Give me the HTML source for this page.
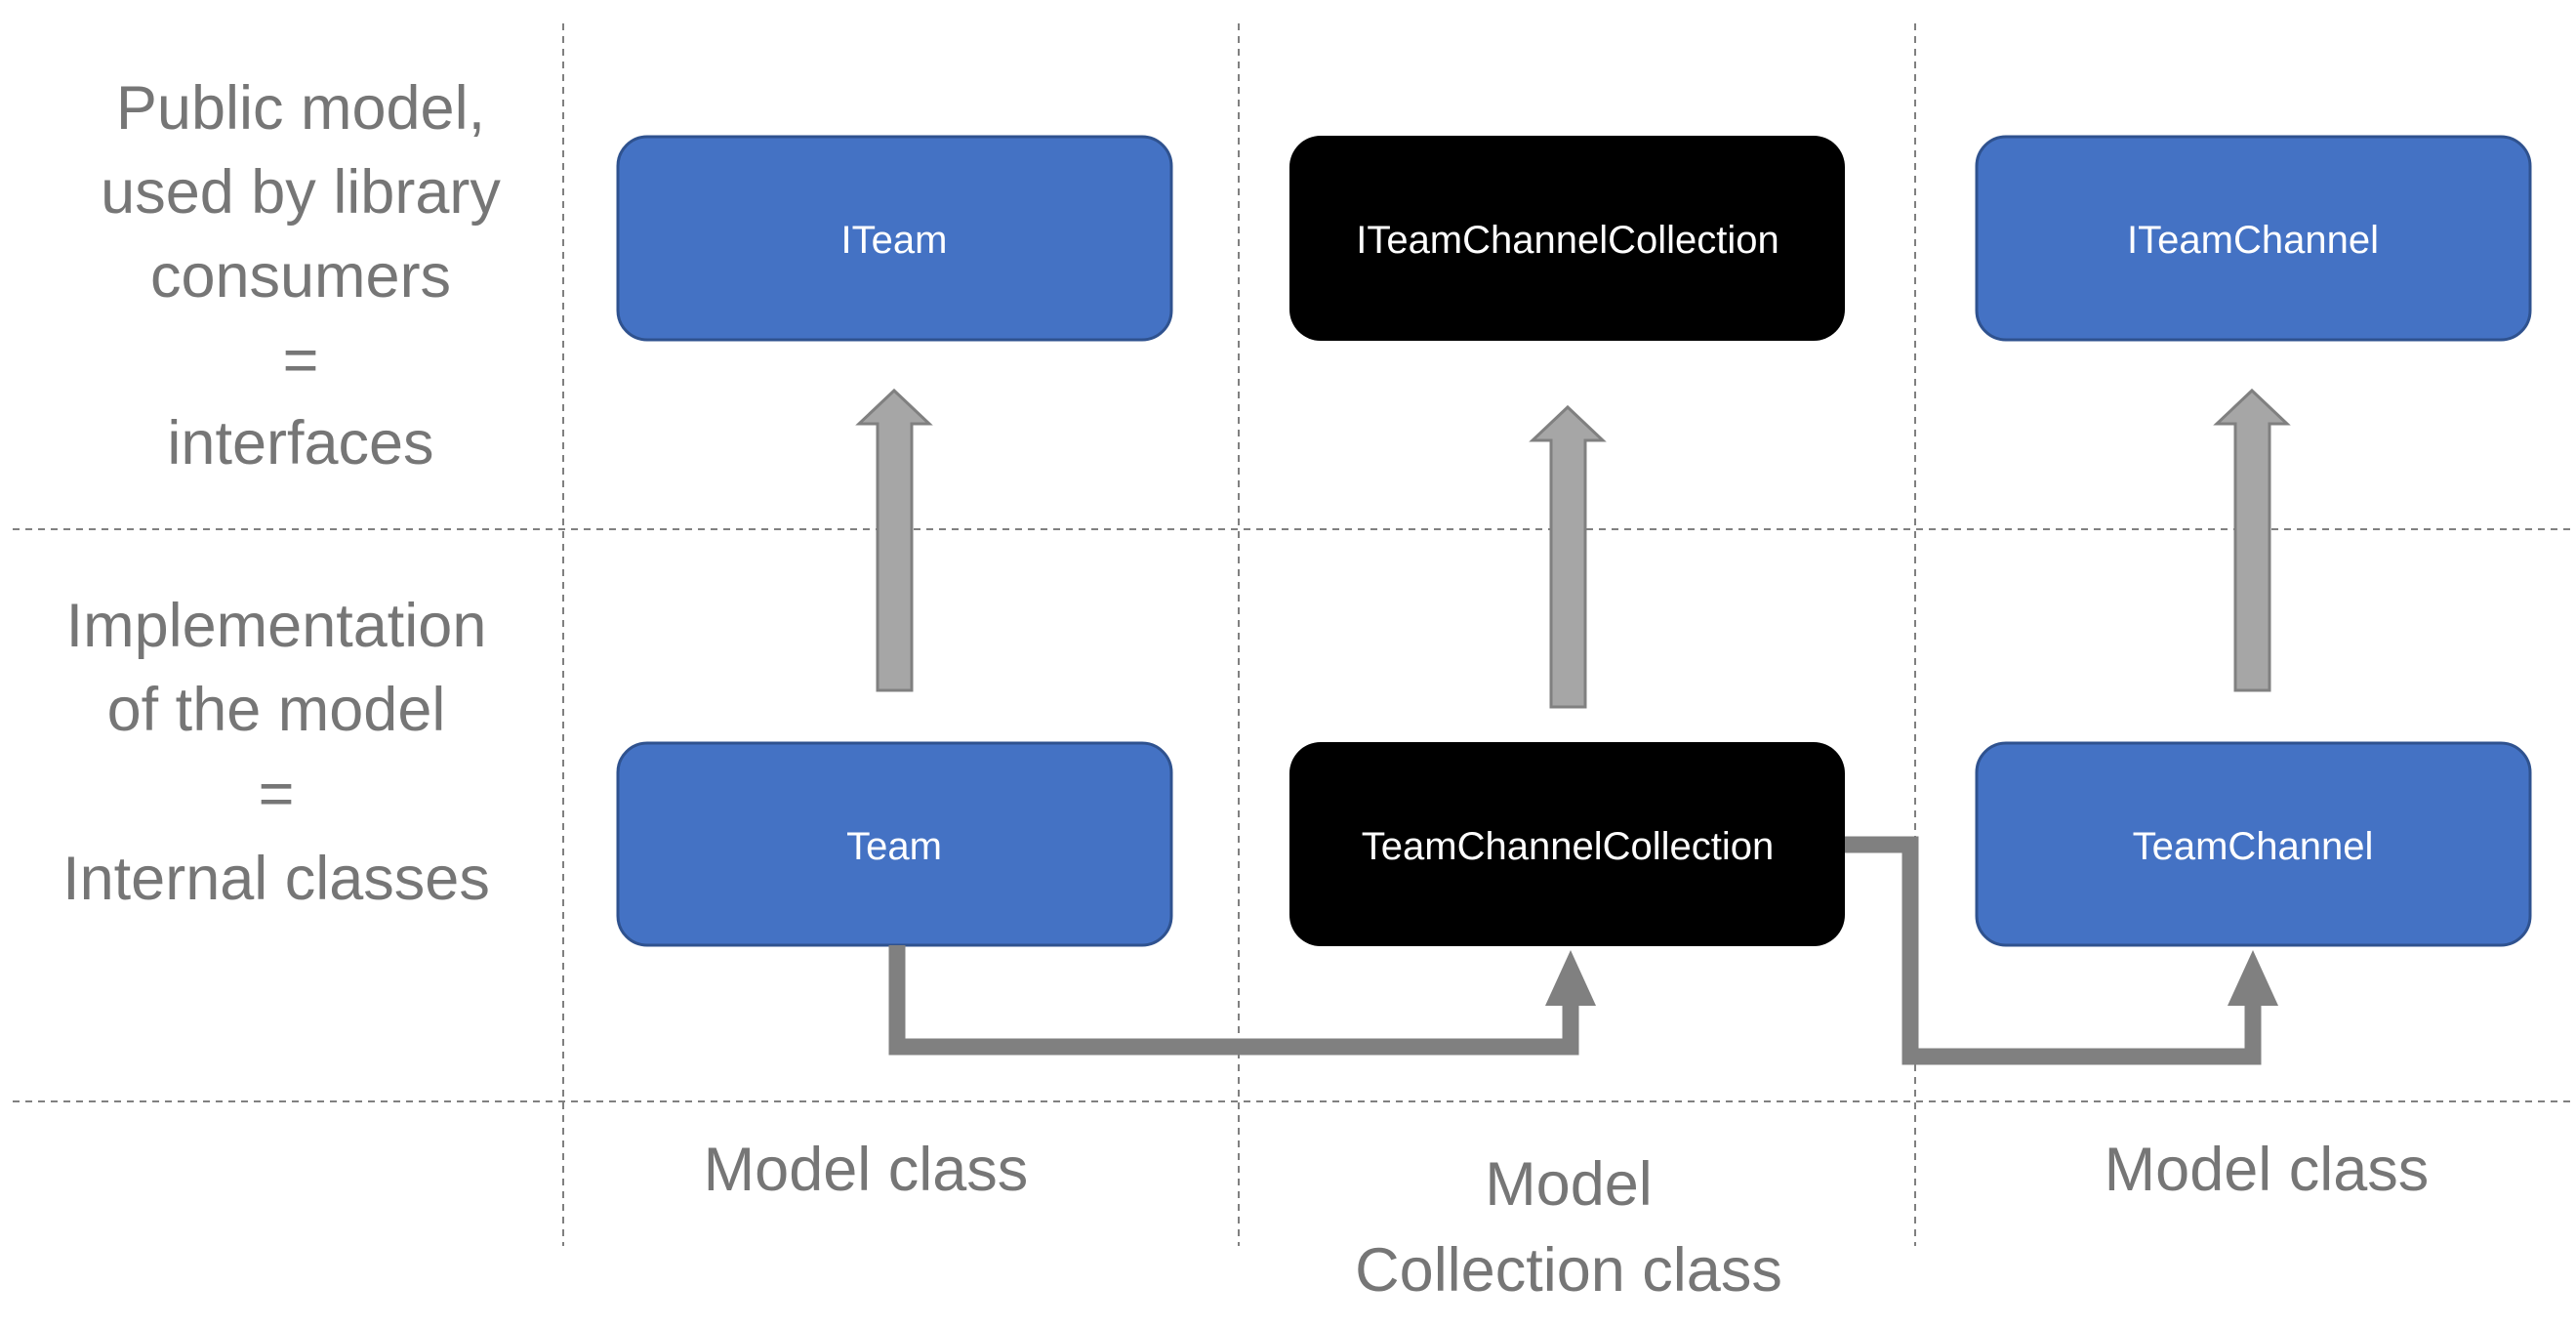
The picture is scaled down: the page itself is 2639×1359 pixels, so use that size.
<!DOCTYPE html>
<html><head><meta charset="utf-8"><style>html,body{margin:0;padding:0;background:#fff}svg{display:block}</style></head>
<body>
<svg width="2639" height="1359" viewBox="0 0 2639 1359" xmlns="http://www.w3.org/2000/svg" font-family="Liberation Sans, sans-serif">
<g stroke="#808080" stroke-width="2" stroke-dasharray="7,6" fill="none">
<line x1="577" y1="24" x2="577" y2="1276"/>
<line x1="1269" y1="24" x2="1269" y2="1276"/>
<line x1="1962" y1="24" x2="1962" y2="1276"/>
<line x1="13" y1="542" x2="2639" y2="542"/>
<line x1="13" y1="1128" x2="2639" y2="1128"/>
</g>
<g stroke="#2F528F" stroke-width="3" fill="#4472C4">
<rect x="633" y="140" width="567" height="208" rx="30"/>
<rect x="633" y="761" width="567" height="207" rx="30"/>
<rect x="2025" y="140" width="567" height="208" rx="30"/>
<rect x="2025" y="761" width="567" height="207" rx="30"/>
</g>
<g fill="#000">
<rect x="1321" y="139" width="569" height="210" rx="32"/>
<rect x="1321" y="760" width="569" height="209" rx="32"/>
</g>
<g fill="#fff" font-size="40" text-anchor="middle">
<text x="916" y="259">ITeam</text>
<text x="916" y="880">Team</text>
<text x="1606" y="259">ITeamChannelCollection</text>
<text x="1606" y="880">TeamChannelCollection</text>
<text x="2308" y="259">ITeamChannel</text>
<text x="2308" y="880">TeamChannel</text>
</g>
<g fill="#A6A6A6" stroke="#808080" stroke-width="3">
<path d="M899,707 L899,434 L880,434 L916,400 L952,434 L934,434 L934,707 Z"/>
<path d="M1589,724 L1589,451 L1570,451 L1606,417 L1642,451 L1624,451 L1624,724 Z"/>
<path d="M2290,707 L2290,434 L2271,434 L2307,400 L2343,434 L2325,434 L2325,707 Z"/>
</g>
<g fill="none" stroke="#808080" stroke-width="17">
<polyline points="919,968 919,1072 1609,1072 1609,1025"/>
<polyline points="1890,865 1957,865 1957,1082 2308,1082 2308,1025"/>
</g>
<g fill="#808080">
<polygon points="1583,1030 1635,1030 1609,973"/>
<polygon points="2282,1030 2334,1030 2308,973"/>
</g>
<g fill="#767676" font-size="63" text-anchor="middle">
<text x="308" y="132">Public model,</text>
<text x="308" y="218">used by library</text>
<text x="308" y="304">consumers</text>
<text x="308" y="390">=</text>
<text x="308" y="475">interfaces</text>
<text x="283" y="662">Implementation</text>
<text x="283" y="748">of the model</text>
<text x="283" y="834">=</text>
<text x="283" y="921">Internal classes</text>
<text x="887" y="1219">Model class</text>
<text x="1607" y="1234">Model</text>
<text x="1607" y="1322">Collection class</text>
<text x="2322" y="1219">Model class</text>
</g>
</svg>
</body></html>
